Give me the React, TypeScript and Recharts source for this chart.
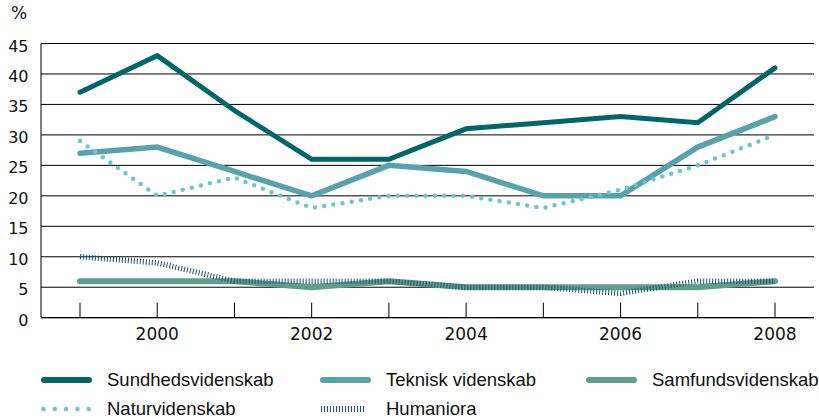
import React from "react"
import { LineChart, Line, XAxis, YAxis, CartesianGrid } from "recharts"

// values (percent)
const years = ["1999", "2000", "2001", "2002", "2003", "2004", "2005", "2006", "2007", "2008"]
const sundhed = [37, 43, 34, 26, 26, 31, 32, 33, 32, 41]
const teknisk = [27, 28, 24, 20, 25, 24, 20, 20, 28, 33]
const samfund = [6, 6, 6, 5, 6, 5, 5, 5, 5, 6]
const natur = [29, 20, 23, 18, 20, 20, 18, 21, 25, 30]
const humaniora = [10, 9, 6, 6, 6, 5, 5, 4, 6, 6]
const yTicks = [0, 5, 10, 15, 20, 25, 30, 35, 40, 45]

const data = years.map((year, i) => ({
  year,
  sundhed: sundhed[i],
  teknisk: teknisk[i],
  samfund: samfund[i],
  natur: natur[i],
  humaniora: humaniora[i],
}))

const C = {
  sundhed: "#00666a",
  teknisk: "#57a2ad",
  samfund: "#5e9e8c",
  natur: "#6cc5d1",
  humaniora: "#1d5270",
}

const axisFont = "'DejaVu Sans', sans-serif"
const legendFont = "'Liberation Sans', Arial, sans-serif"

function YearTick(props: any) {
  const { x, y, payload } = props
  const yr = Number(payload.value)
  return (
    <g>
      <line x1={x} x2={x} y1={y} y2={y - 15} stroke="#000" strokeWidth={1} />
      {yr % 2 === 0 && (
        <text x={x} y={y + 22} textAnchor="middle" fontSize={17} fontFamily={axisFont} fill="#111">
          {payload.value}
        </text>
      )}
    </g>
  )
}

function PctTick(props: any) {
  const { y, payload } = props
  return (
    <text x={28.5} y={y + 8} textAnchor="end" fontSize={16} fontFamily={axisFont} fill="#111">
      {payload.value}
    </text>
  )
}

type Item = { label: string; kind: "solid" | "dots" | "hatch"; color: string; x: number; y: number }

const legendItems: Item[] = [
  { label: "Sundhedsvidenskab", kind: "solid", color: C.sundhed, x: 41, y: 380 },
  { label: "Teknisk videnskab", kind: "solid", color: C.teknisk, x: 320, y: 380 },
  { label: "Samfundsvidenskab", kind: "solid", color: C.samfund, x: 586, y: 380 },
  { label: "Naturvidenskab", kind: "dots", color: C.natur, x: 41, y: 409 },
  { label: "Humaniora", kind: "hatch", color: C.humaniora, x: 320, y: 409 },
]

function LegendIcon({ kind, color }: { kind: Item["kind"]; color: string }) {
  return (
    <svg width={52} height={12} style={{ display: "block" }}>
      {kind === "solid" && (
        <line x1={3} x2={48} y1={6} y2={6} stroke={color} strokeWidth={6} strokeLinecap="round" />
      )}
      {kind === "dots" && (
        <line x1={2.5} x2={48} y1={6} y2={6} stroke={color} strokeWidth={4.5} strokeLinecap="round" strokeDasharray="0 11.3" />
      )}
      {kind === "hatch" && (
        <line x1={1} x2={46} y1={6} y2={6} stroke={color} strokeWidth={6} strokeDasharray="1 2" />
      )}
    </svg>
  )
}

export default function App() {
  return (
    <div style={{ position: "absolute", left: 0, top: 0, width: 819, height: 419, background: "#fff" }}>
      <div
        style={{
          position: "absolute",
          left: 11,
          top: 3,
          fontSize: 17,
          fontFamily: axisFont,
          color: "#111",
        }}
      >
        %
      </div>
      <LineChart
        width={819}
        height={419}
        data={data}
        margin={{ top: 43.5, right: 5, bottom: 71.3, left: 0 }}
      >
        <CartesianGrid vertical={false} stroke="#000" strokeWidth={1} />
        <XAxis
          dataKey="year"
          height={30}
          interval={0}
          padding={{ left: 39, right: 39 }}
          axisLine={{ stroke: "#000", strokeWidth: 1 }}
          tickLine={false}
          tickSize={0}
          tickMargin={0}
          tick={<YearTick />}
        />
        <YAxis
          width={41}
          domain={[0, 45]}
          ticks={yTicks}
          interval={0}
          axisLine={{ stroke: "#000", strokeWidth: 1 }}
          tickLine={false}
          tick={<PctTick />}
        />
        <Line
          dataKey="sundhed"
          type="linear"
          stroke={C.sundhed}
          strokeWidth={5}
          strokeLinecap="round"
          dot={false}
          activeDot={false}
          isAnimationActive={false}
        />
        <Line
          dataKey="teknisk"
          type="linear"
          stroke={C.teknisk}
          strokeWidth={5.5}
          strokeLinecap="round"
          dot={false}
          activeDot={false}
          isAnimationActive={false}
        />
        <Line
          dataKey="samfund"
          type="linear"
          stroke={C.samfund}
          strokeWidth={6}
          strokeLinecap="round"
          dot={false}
          activeDot={false}
          isAnimationActive={false}
        />
        <Line
          dataKey="humaniora"
          type="linear"
          stroke={C.humaniora}
          strokeWidth={5.5}
          strokeDasharray="1 2"
          dot={false}
          activeDot={false}
          isAnimationActive={false}
        />
        <Line
          dataKey="natur"
          type="linear"
          stroke={C.natur}
          strokeWidth={4.5}
          strokeLinecap="round"
          strokeDasharray="0 9.3"
          dot={false}
          activeDot={false}
          isAnimationActive={false}
        />
      </LineChart>
      {legendItems.map((it) => (
        <div
          key={it.label}
          style={{
            position: "absolute",
            left: it.x,
            top: it.y - 12,
            height: 24,
            display: "flex",
            alignItems: "center",
            fontFamily: legendFont,
            fontSize: 18.5,
            color: "#111",
            whiteSpace: "nowrap",
          }}
        >
          <LegendIcon kind={it.kind} color={it.color} />
          <span style={{ marginLeft: 14 }}>{it.label}</span>
        </div>
      ))}
    </div>
  )
}
